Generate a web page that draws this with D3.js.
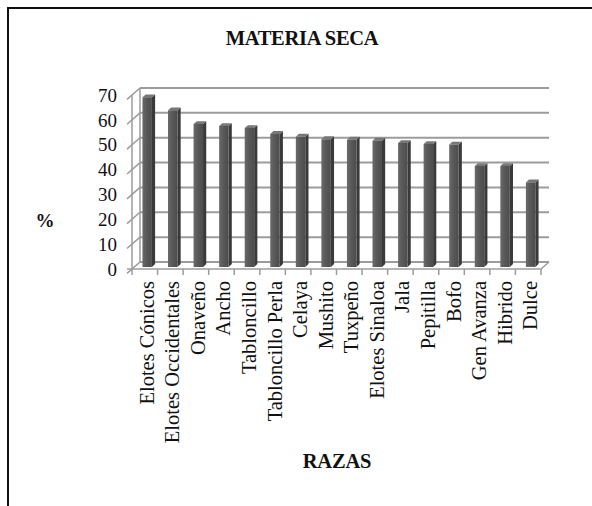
<!DOCTYPE html>
<html>
<head>
<meta charset="utf-8">
<script src="https://cdnjs.cloudflare.com/ajax/libs/d3/7.8.5/d3.min.js"></script>
<style>
  body { margin: 0; background: #fff; }
</style>
</head>
<body>
<script>
// data
var razas = ["Elotes Cónicos", "Elotes Occidentales", "Onaveño", "Ancho", "Tabloncillo",
  "Tabloncillo Perla", "Celaya", "Mushito", "Tuxpeño", "Elotes Sinaloa", "Jala",
  "Pepitilla", "Bofo", "Gen Avanza", "Hibrido", "Dulce"];
var materiaSeca = [68.2, 63, 57.5, 56.7, 55.9, 53.5, 52.4, 51.4, 51.2, 50.8, 49.8,
  49.4, 49.2, 40.6, 40.6, 34];
var yTicks = [0, 10, 20, 30, 40, 50, 60, 70];

var serif = "'Liberation Serif', 'Times New Roman', Tinos, 'DejaVu Serif', serif";
var width = 592, height = 506;
var svg = d3.select("body").append("svg")
  .attr("width", width)
  .attr("height", height)
  .attr("font-family", serif);

// outer frame (only top + left visible in crop)
svg.append("rect")
  .attr("x", 8).attr("y", 8)
  .attr("width", 640).attr("height", 640)
  .attr("fill", "none")
  .attr("stroke", "#111")
  .attr("stroke-width", 2);

// 3d depth offset
var dx = 8, dy = -7;

var x = d3.scaleBand()
  .domain(razas)
  .range([132, 541])
  .padding(0);

var y = d3.scaleLinear()
  .domain([0, 70])
  .range([269, 95]);

function proj(px, py, z) { return [px + z * dx, py + z * dy]; }

var grid = svg.append("g");
var gridColor = "#9c9c9c";

// back wall gridlines + side wall gridlines
yTicks.forEach(function(t){
  var f = proj(x.range()[0], y(t), 0);
  var b = proj(x.range()[0], y(t), 1);
  var br = proj(x.range()[1], y(t), 1);
  grid.append("line")
    .attr("x1", b[0]).attr("y1", b[1])
    .attr("x2", br[0]).attr("y2", br[1])
    .attr("stroke", gridColor).attr("stroke-width", 2);
  grid.append("line")
    .attr("x1", f[0] - 5).attr("y1", f[1] + 4.4)
    .attr("x2", b[0]).attr("y2", b[1])
    .attr("stroke", gridColor).attr("stroke-width", 1.5);
});

// walls edges
var bl0 = proj(x.range()[0], y(0), 1), bl1 = proj(x.range()[0], y(70), 1);
grid.append("line")
  .attr("x1", bl0[0]).attr("y1", bl0[1]).attr("x2", bl1[0]).attr("y2", bl1[1])
  .attr("stroke", gridColor).attr("stroke-width", 1.5);
grid.append("line")
  .attr("x1", x.range()[0]).attr("y1", y(0)).attr("x2", x.range()[0]).attr("y2", y(70))
  .attr("stroke", gridColor).attr("stroke-width", 1.5);

// floor
var fr = proj(x.range()[1], y(0), 0), frb = proj(x.range()[1], y(0), 1);
grid.append("line")
  .attr("x1", x.range()[0] - 5).attr("y1", y(0))
  .attr("x2", fr[0]).attr("y2", fr[1])
  .attr("stroke", gridColor).attr("stroke-width", 1.5);
grid.append("line")
  .attr("x1", fr[0]).attr("y1", fr[1]).attr("x2", frb[0]).attr("y2", frb[1])
  .attr("stroke", gridColor).attr("stroke-width", 1.5);

// x ticks at band edges
var edges = razas.map(function(d){ return x(d); }).concat([x.range()[1]]);
grid.selectAll(".xtick")
  .data(edges)
  .enter()
  .append("line")
  .attr("x1", function(d){ return d; })
  .attr("x2", function(d){ return d; })
  .attr("y1", y(0))
  .attr("y2", y(0) + 6)
  .attr("stroke", gridColor).attr("stroke-width", 1.5);

// bars
var barW = x.bandwidth() * 0.37;
var z0 = 0.3, z1 = 0.7;
var bars = svg.append("g");

var defs = svg.append("defs");
var grad = defs.append("linearGradient").attr("id", "frontGrad")
  .attr("x1", "0%").attr("x2", "100%");
grad.append("stop").attr("offset", "0%").attr("stop-color", "#6a6a6a");
grad.append("stop").attr("offset", "40%").attr("stop-color", "#5a5a5a");
grad.append("stop").attr("offset", "100%").attr("stop-color", "#4c4c4c");

razas.forEach(function(r, i){
  var v = materiaSeca[i];
  var xl = x(r) + (x.bandwidth() - barW) / 2;
  var xr = xl + barW;
  var p = function(px, val, z){ return proj(px, y(val), z); };
  var a = p(xl, 0, z0), b = p(xr, 0, z0), c = p(xr, v, z0), d = p(xl, v, z0);
  var b2 = p(xr, 0, z1), c2 = p(xr, v, z1), d2 = p(xl, v, z1);
  // side
  bars.append("path")
    .attr("d", "M" + [b, b2, c2, c].join("L") + "Z")
    .attr("fill", "#3a3a3a");
  // top
  bars.append("path")
    .attr("d", "M" + [d, c, c2, d2].join("L") + "Z")
    .attr("fill", "#777");
  // front
  bars.append("path")
    .attr("d", "M" + [a, b, c, d].join("L") + "Z")
    .attr("fill", "url(#frontGrad)");
});

// y tick labels
svg.append("g").selectAll(".ylab")
  .data(yTicks)
  .enter()
  .append("text")
  .attr("x", 117)
  .attr("y", function(d){ return y(d); })
  .attr("dy", "0.35em")
  .attr("text-anchor", "end")
  .attr("font-size", 19)
  .attr("fill", "#111")
  .text(function(d){ return d; });

// category labels
svg.append("g").selectAll(".xlab")
  .data(razas)
  .enter()
  .append("text")
  .attr("transform", function(d){
    return "translate(" + (x(d) + x.bandwidth() / 2 + 9) + ",281) rotate(-90)";
  })
  .attr("text-anchor", "end")
  .attr("font-size", 20.5)
  .attr("fill", "#111")
  .text(function(d){ return d; });

// titles
svg.append("text")
  .attr("x", 302).attr("y", 45)
  .attr("text-anchor", "middle")
  .attr("font-size", 20.5)
  .attr("font-weight", "bold")
  .attr("letter-spacing", -0.3)
  .attr("fill", "#111")
  .text("MATERIA SECA");

svg.append("text")
  .attr("x", 337).attr("y", 468)
  .attr("text-anchor", "middle")
  .attr("font-size", 20.5)
  .attr("font-weight", "bold")
  .attr("letter-spacing", -0.2)
  .attr("fill", "#111")
  .text("RAZAS");

svg.append("text")
  .attr("x", 45).attr("y", 220)
  .attr("dy", "0.35em")
  .attr("text-anchor", "middle")
  .attr("font-size", 19)
  .attr("font-weight", "bold")
  .attr("fill", "#111")
  .text("%");
</script>
</body>
</html>
